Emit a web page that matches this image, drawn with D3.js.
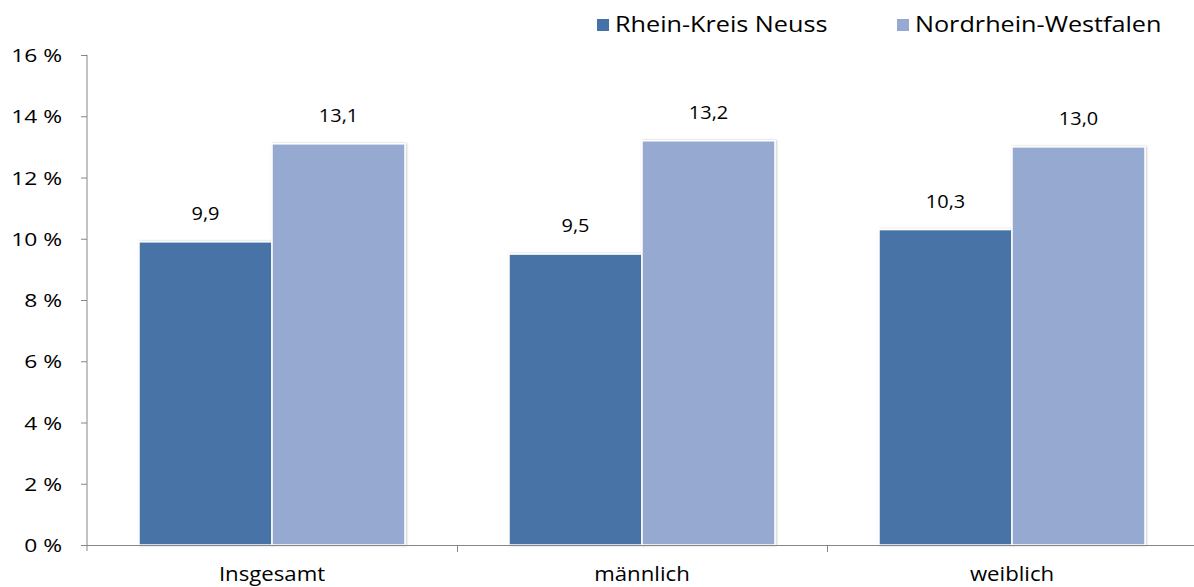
<!DOCTYPE html>
<html><head><meta charset="utf-8">
<script src="https://cdn.jsdelivr.net/npm/d3@7"></script>
<style>body{margin:0;background:#fff}svg{display:block}text{font-family:"Open Sans",Lato,sans-serif;fill:#000}</style>
</head><body>
<svg id="c" width="1194" height="587"></svg>
<script>
const categories = ["Insgesamt","männlich","weiblich"];
const seriesNames = ["Rhein-Kreis Neuss","Nordrhein-Westfalen"];
const rheinKreisNeuss = [9.9, 9.5, 10.3];
const nordrheinWestfalen = [13.1, 13.2, 13.0];
const yTicks = [0,2,4,6,8,10,12,14,16];
const colors = ["#4673A7","#96AAD1"];

const svg = d3.select("#c");
const mLeft = 87, mRight = 1197, mTop = 55, mBottom = 545;
const x = d3.scaleBand().domain(categories).range([mLeft, mRight]).paddingInner(0).paddingOuter(0);
const x1 = d3.scaleBand().domain(seriesNames).range([52, x.bandwidth()-52]).padding(0);
const y = d3.scaleLinear().domain([0,16]).range([mBottom, mTop]);
const series = [rheinKreisNeuss, nordrheinWestfalen];

// stretched text helper (reference text is horizontally widened)
function sText(g, tx, ty, str, size, sx, anchor){
  return g.append("text")
    .attr("transform",`translate(${tx},${ty}) scale(${sx},1)`)
    .attr("text-anchor",anchor||"start")
    .attr("font-size",size)
    .text(str);
}

const defs = svg.append("defs");
const f = defs.append("filter").attr("id","sh").attr("x","-10%").attr("y","-10%").attr("width","130%").attr("height","130%");
f.append("feDropShadow").attr("dx",1).attr("dy",0).attr("stdDeviation",1.2).attr("flood-color","#000").attr("flood-opacity",0.22);

categories.forEach((c,i)=>{
  series.forEach((s,j)=>{
    const v = s[i];
    svg.append("rect")
      .attr("x", x(c)+x1(seriesNames[j]))
      .attr("y", y(v))
      .attr("width", x1.bandwidth())
      .attr("height", y(0)-y(v))
      .attr("fill", colors[j])
      .attr("stroke","#fff").attr("stroke-width",1.5)
      .attr("filter","url(#sh)");
    sText(svg, x(c)+x1(seriesNames[j])+x1.bandwidth()/2, y(v)-22,
      d3.format(".1f")(v).replace(".",","), 17.5, 1.14, "middle");
  });
});

const ya = svg.append("g").attr("transform",`translate(${mLeft},0)`)
  .call(d3.axisLeft(y).tickValues(yTicks).tickSize(6).tickFormat(""));
ya.select(".domain").attr("stroke","#868686").attr("d",`M-0.5,${mTop}H0V${mBottom+6}`);
ya.selectAll(".tick line").attr("stroke","#868686");
yTicks.forEach(t=>{
  sText(svg, 62, y(t)+7, t+" %", 19, 1.2, "end");
});

const xa = svg.append("g").attr("transform",`translate(0,${mBottom})`);
xa.append("line").attr("x1",mLeft).attr("x2",1194).attr("y1",0.5).attr("y2",0.5).attr("stroke","#868686");
categories.forEach((c,i)=>{
  if(i>0) xa.append("line").attr("x1",x(c)+0.5).attr("x2",x(c)+0.5).attr("y1",0).attr("y2",7).attr("stroke","#868686");
  sText(xa, x(c)+x.bandwidth()/2, 36, c, 20, 1.11, "middle");
});

const lg = svg.append("g");
[[597,615],[897,915]].forEach((p,j)=>{
  lg.append("rect").attr("x",p[0]).attr("y",19).attr("width",12).attr("height",12).attr("fill",colors[j]);
  sText(lg, p[1], 32, seriesNames[j], 21, 1.2, "start");
});
</script>
</body></html>
